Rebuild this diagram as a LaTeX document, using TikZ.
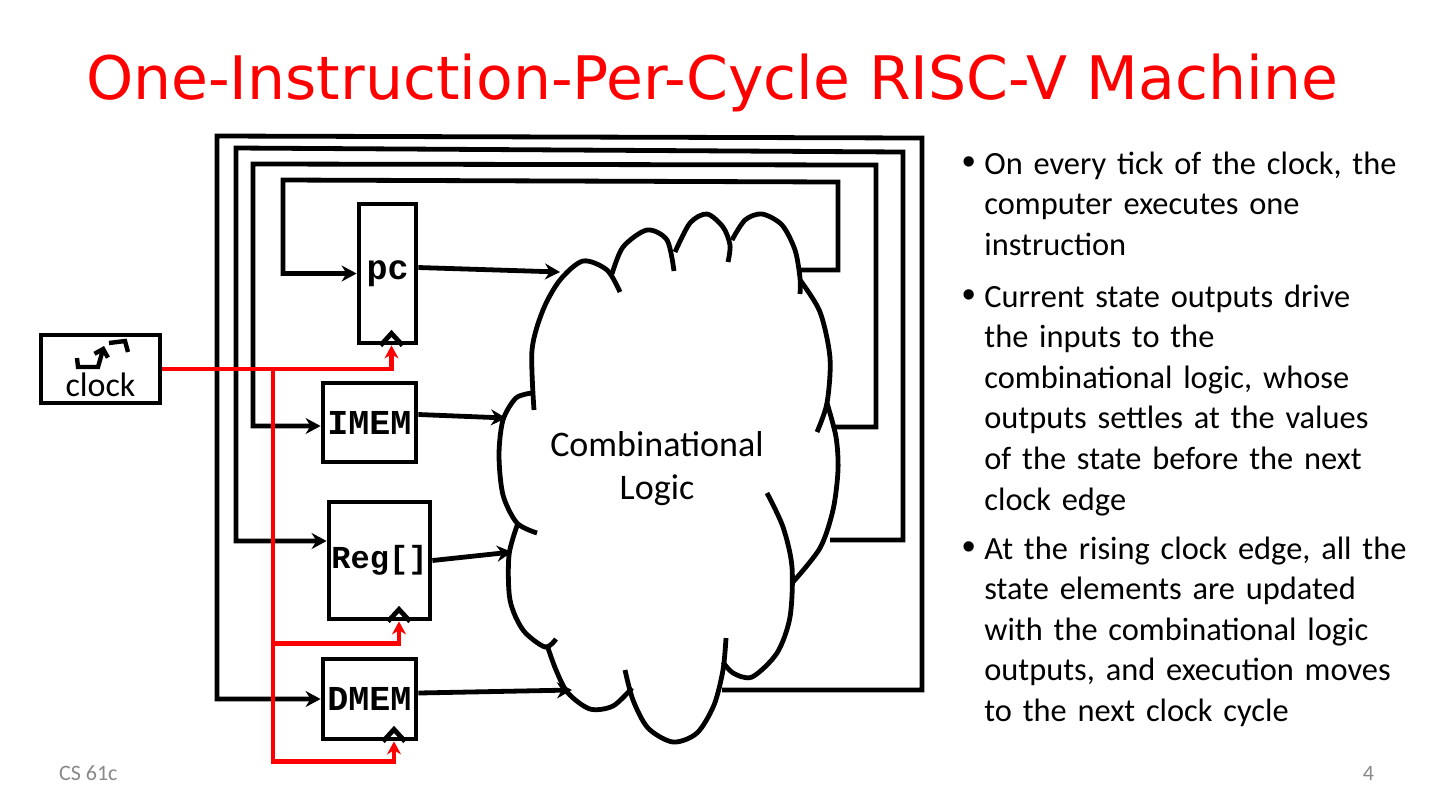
\documentclass[tikz,border=0pt]{standalone}
\usepackage{fontspec}
\setmainfont{Carlito}
\newfontfamily\titlefont{DejaVu Sans}
\newfontfamily\codefont{Liberation Mono}
\newfontfamily\bulletfont{Liberation Sans}
\usetikzlibrary{arrows.meta}
\definecolor{footgray}{RGB}{137,137,137}
\tikzset{
    wire/.style={draw=black, line width=2.4pt},
    feed/.style={wire, -{Stealth[length=7.5pt,width=8pt]}},
    clkwire/.style={draw=red, line width=2.4pt},
    clkfeed/.style={clkwire, -{Stealth[length=6.5pt,width=7pt]}},
    statebox/.style={draw=black, line width=2.4pt, inner sep=0pt,
        font=\codefont\bfseries\fontsize{17.5}{17.5}\selectfont},
    lobe/.style={draw=black, line width=2.4pt},
    bullettext/.style={anchor=base west, inner sep=0pt, text width=235pt,
        align=left, font=\fontsize{16.2}{20.3}\selectfont}
}
\begin{document}
\begin{tikzpicture}[x=0.5pt,y=-0.5pt]
	\useasboundingbox (0,0) rectangle (1440,811);
	\fill[white] (0,0) rectangle (1440,811);
	\node[font=\titlefont\fontsize{30}{36}\selectfont, text=red, anchor=base] (title) at (712,99) {One-Instruction-Per-Cycle RISC-V Machine};

	% state elements
	\node[statebox, minimum width=28.5pt, minimum height=69.5pt] (pc) at (387.5,273.5) {pc};
	\node[statebox, minimum width=46.5pt, minimum height=39.5pt] (imem) at (369.5,422.5) {IMEM};
	\node[statebox, minimum width=50.5pt, minimum height=58.5pt,
		font=\codefont\bfseries\fontsize{16}{16}\selectfont] (reg) at (379.5,560.5) {Reg[]};
	\node[statebox, minimum width=46.5pt, minimum height=40pt] (dmem) at (369.5,699) {DMEM};
	\coordinate (pc-clk) at ([xshift=2pt]pc.south);
	\coordinate (reg-clk) at ([xshift=9.75pt]reg.south);
	\coordinate (dmem-clk) at ([xshift=12.25pt]dmem.south);
	\foreach \n in {pc-clk,reg-clk,dmem-clk}
		\draw[wire] (\n) ++(-11,0) -- ++(11,-12) -- ++(11,12);

	% combinational logic
	\draw[lobe] plot[smooth] coordinates {(534,410) (532,350) (543,310) (560,280) (583,261) (607,270) (620,292)};
	\draw[lobe] plot[smooth] coordinates {(612,274) (623,247) (647,230) (667,240) (674,271)};
	\draw[lobe] plot[smooth] coordinates {(675,252) (690,223) (707,214) (723,227) (730,245) (728,262)};
	\draw[lobe] plot[smooth] coordinates {(732,240) (745,220) (762,214) (782,225) (795,250) (800,278) (800,294)};
	\draw[lobe] plot[smooth] coordinates {(800,280) (820,312) (830,358) (827,403) (817,432)};
	\draw[lobe] plot[smooth] coordinates {(827,403) (836,437) (838,470) (833,510) (820,548) (793,582)};
	\draw[lobe] plot[smooth] coordinates {(767,493) (783,527) (792,567) (790,617) (777,653) (752,677) (733,673) (723,662)};
	\draw[lobe] plot[smooth] coordinates {(625,670) (633,700) (648,728) (673,742) (697,733) (714,705) (723,670) (726,638)};
	\draw[lobe] plot[smooth] coordinates {(547,645) (556,670) (568,693) (590,709) (613,706) (632,688)};
	\draw[lobe] plot[smooth] coordinates {(518,523) (509,555) (510,600) (523,630) (545,647) (556,639)};
	\draw[lobe] plot[smooth] coordinates {(532,393) (516,398) (503,420) (499,455) (503,495) (517,523) (537,533)};
	\node[font=\fontsize{18}{21.5}\selectfont, align=center] (logic) at (657,469) {Combinational\\Logic};

	\coordinate (in-pc) at (560,272);
	\coordinate (in-imem) at (506,418);
	\coordinate (in-reg) at (512,552);
	\coordinate (in-dmem) at (572,690);
	\coordinate (out-pc) at (800,270);
	\coordinate (out-imem) at (835,427);
	\coordinate (out-reg) at (830,540);
	\coordinate (out-dmem) at (722,690);
	\draw[feed] ([yshift=3pt]pc.east) -- (in-pc);
	\draw[feed] ([yshift=4pt]imem.east) -- (in-imem);
	\draw[feed] (reg.east) -- (in-reg);
	\draw[feed] ([yshift=3pt]dmem.east) -- (in-dmem);
	\draw[feed] (out-pc) -| (838,182) -- (283,180) |- (pc.west);
	\draw[feed] (out-imem) -| (876,165) -- (253,164) |- ([yshift=-1.75pt]imem.west);
	\draw[feed] (out-reg) -| (903,152) -- (236,148) |- ([yshift=9.75pt]reg.west);
	\draw[feed] (out-dmem) -| (922,138) -- (217,136) |- (dmem.west);

	% clock
	\node[statebox, minimum width=59.5pt, minimum height=34pt] (clk) at (100.5,369) {};
	\node[font=\fontsize{17}{17}\selectfont, anchor=base] (clk-text) at (100.5,396) {clock};
	\draw[line width=2.2pt, -{Straight Barb[length=3.5pt,width=7pt]}] (77,358) -- (78,367) -- (98,367) -- (104,346);
	\draw[line width=2.2pt] (109,343) -- (125,341) -- (128,352);
	\coordinate (tap) at (273,369);
	\draw[clkfeed] (clk.east) -| (pc-clk);
	\draw[clkfeed] (tap) |- ([yshift=-11pt]reg-clk) -- (reg-clk);
	\draw[clkfeed] (tap) |- ([yshift=-10pt]dmem-clk) -- (dmem-clk);

	% text
	\foreach \y [count=\i] in {174,307,559}
		\node[font=\bulletfont\fontsize{19}{19}\selectfont, anchor=base] (dot\i) at (969,\y) {•};
	\node[bullettext] (tick) at (984,174) {On every tick of the clock, the\\computer executes one\\instruction};
	\node[bullettext] (drive) at (984,307) {Current state outputs drive\\the inputs to the\\combinational logic, whose\\outputs settles at the values\\of the state before the next\\clock edge};
	\node[bullettext] (update) at (984,559) {At the rising clock edge, all the\\state elements are updated\\with the combinational logic\\outputs, and execution moves\\to the next clock cycle};
	\node[font=\fontsize{11}{11}\selectfont, text=footgray, anchor=base west] (course) at (52,780) {CS 61c};
	\node[font=\fontsize{11}{11}\selectfont, text=footgray, anchor=base east] (page) at (1381,780) {4};
\end{tikzpicture}
\end{document}
